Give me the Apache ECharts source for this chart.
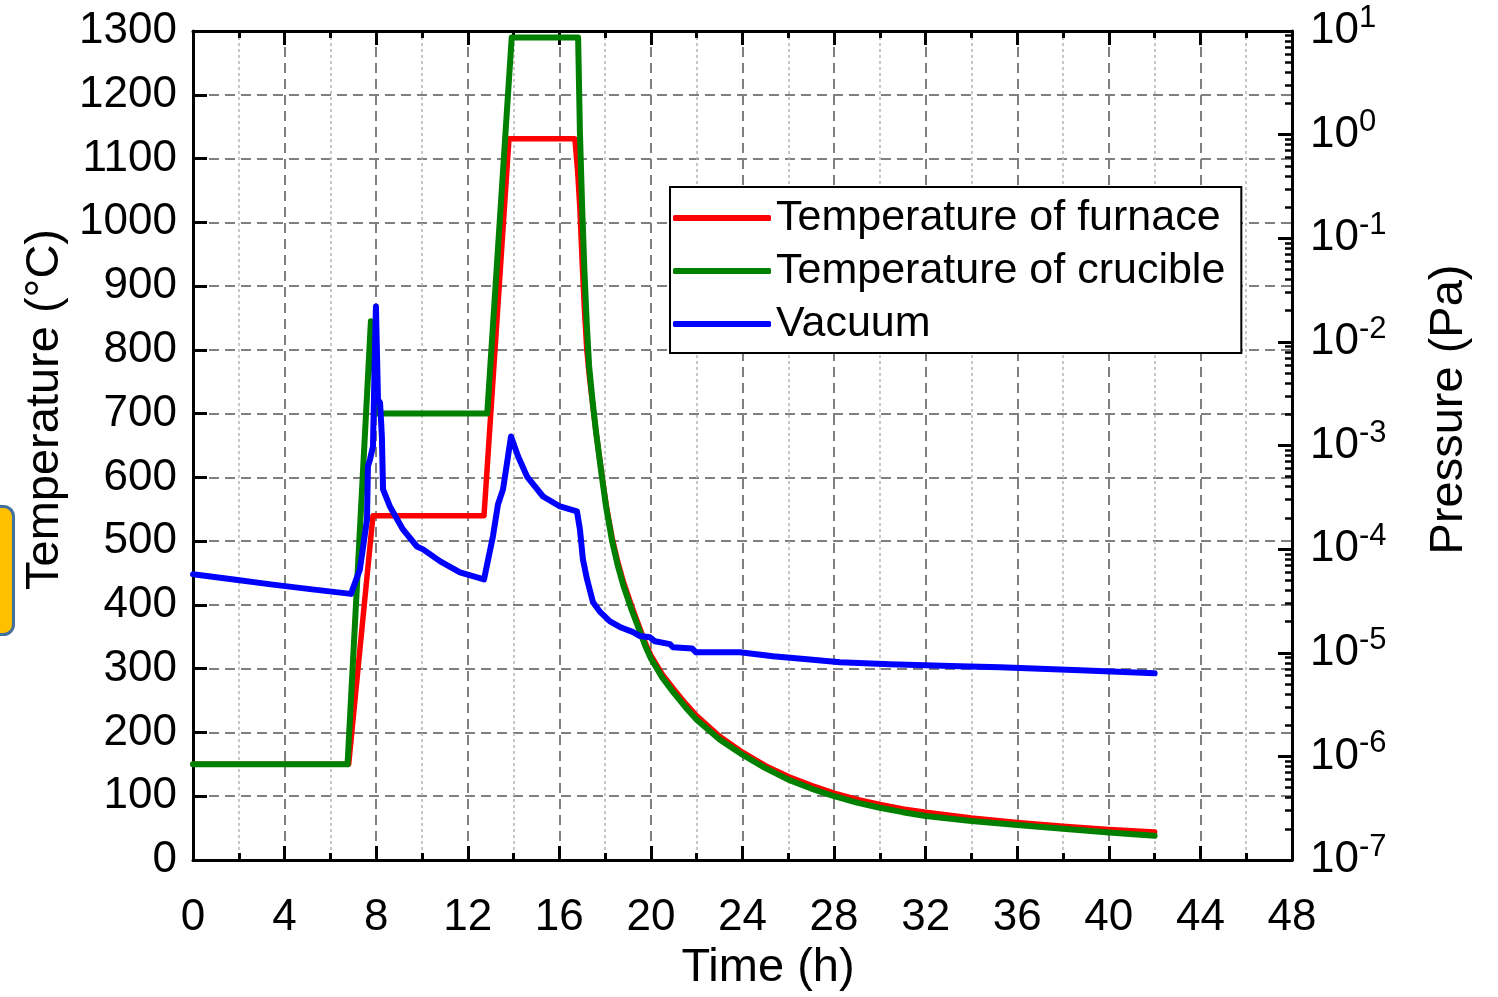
<!DOCTYPE html>
<html>
<head>
<meta charset="utf-8">
<script src="https://cdn.jsdelivr.net/npm/echarts@6/dist/echarts.min.js"></script>
<style>
html,body{margin:0;padding:0;background:#fff;}
#chart{width:1498px;height:997px;}
</style>
</head>
<body>
<div id="chart"></div>
<script>
// ---- data: [time (h), value] ----
const furnaceTemp = [
  [0,150],[6.8,150],[7.86,540],[12.71,540],[13.8,1131],[16.68,1131],[16.8,1080],[16.9,1020],
  [17.0,935],[17.1,860],[17.2,800],[17.3,762],[17.45,716],[17.6,672],[17.85,606],[18.05,556],
  [18.3,506],[18.55,468],[18.8,436],[19.16,398],[19.5,365],[19.75,341],[20.0,321],[20.5,291],
  [21.0,268],[21.5,246],[22.0,226],[23.0,194],[24.0,169],[25.0,148],[26.0,131],[27.0,117],
  [28.0,105],[29.0,95],[30.0,87],[31.0,80],[32.0,75],[34.0,66],[36.0,59],[38.0,53],[40.0,48],[42.0,44]
];
const crucibleTemp = [
  [0,150],[6.75,150],[7.77,845],[8.05,700],[12.85,700],[13.92,1290],[16.82,1290],[16.9,1140],
  [17.0,1020],[17.1,920],[17.2,840],[17.3,775],[17.45,720],[17.6,672],[17.85,603],[18.05,552],
  [18.3,501],[18.55,462],[18.8,430],[19.16,392],[19.5,360],[19.75,336],[20.0,316],[20.5,286],
  [21.0,262],[21.5,240],[22.0,220],[23.0,189],[24.0,165],[25.0,144],[26.0,126],[27.0,112],
  [28.0,100],[29.0,90],[30.0,82],[31.0,75],[32.0,69],[34.0,61],[36.0,55],[38.0,49],[40.0,43],[42.0,38]
];
const vacuumPressure = [
  [0,5.71e-5],[1.7,5.11e-5],[3.4,4.57e-5],[5.2,4.09e-5],[6.9,3.7e-5],[7.29,6.38e-5],[7.6,1.94e-4],
  [7.64,6.28e-4],[7.73,7.33e-4],[7.86,9.77e-4],[7.95,8.99e-3],[7.99,2.19e-2],[8.08,2.77e-3],
  [8.17,2.59e-3],[8.25,1.22e-3],[8.30,3.77e-4],[8.60,2.58e-4],[9.17,1.55e-4],[9.78,1.06e-4],
  [10.05,9.95e-5],[10.8,7.62e-5],[11.66,5.97e-5],[12.71,5.11e-5],[13.10,1.33e-4],[13.32,2.70e-4],
  [13.54,3.77e-4],[13.89,1.22e-3],[14.2,7.83e-4],[14.59,5.02e-4],[15.29,3.22e-4],[16.03,2.58e-4],
  [16.77,2.31e-4],[16.9,1.55e-4],[17.03,7.96e-5],[17.21,5.11e-5],[17.47,3.07e-5],[17.8,2.45e-5],
  [18.21,2.01e-5],[18.7,1.75e-5],[19.22,1.58e-5],[19.52,1.45e-5],[19.96,1.41e-5],[20.18,1.29e-5],
  [20.83,1.21e-5],[20.96,1.13e-5],[21.8,1.10e-5],[21.97,1.01e-5],[23.89,1.01e-5],[25.33,9.25e-6],
  [26.82,8.66e-6],[28.26,8.09e-6],[30.44,7.74e-6],[33.5,7.41e-6],[35.25,7.24e-6],[38.74,6.78e-6],
  [42.0,6.34e-6]
];
const seriesNames = ['Temperature of furnace','Temperature of crucible','Vacuum'];
const seriesColors = ['#ff0000','#008000','#0000ff'];
const xTitle = 'Time (h)';
const yLeftTitle = 'Temperature (°C)';
const yRightTitle = 'Pressure (Pa)';

const FONT = '"Liberation Sans", Arial, Helvetica, sans-serif';
const black = '#000';
const frameLine = {show:true, onZero:false, lineStyle:{color:black, width:3}};

const chart = echarts.init(document.getElementById('chart'), null, {renderer:'canvas'});
const option = {
  animation:false,
  backgroundColor:'#ffffff',
  textStyle:{fontFamily:FONT, color:black},
  grid:{left:193, right:206, top:31, bottom:136, containLabel:false},
  legend:{
    orient:'vertical', left:670, top:187,
    padding:[7,16,5,3], itemGap:5, itemWidth:98, itemHeight:6,
    icon:'roundRect',
    backgroundColor:'#fff', borderColor:black, borderWidth:2,
    textStyle:{fontSize:43, color:black, fontFamily:FONT, lineHeight:48},
    data:seriesNames
  },
  graphic:[{
    type:'rect', left:-30, top:505, z:100,
    shape:{width:42, height:128, r:10},
    style:{fill:'#FFC000', stroke:'#41719C', lineWidth:3}
  }],
  xAxis:[{
    type:'value', min:0, max:48, interval:4, position:'bottom',
    axisLine:frameLine,
    axisTick:{show:true, inside:true, length:14, lineStyle:{color:black, width:3}},
    minorTick:{show:true, splitNumber:2, length:7, lineStyle:{color:black, width:3}},
    splitLine:{show:true, lineStyle:{color:'#808080', width:2, type:[10,6]}},
    minorSplitLine:{show:true, lineStyle:{color:'#b4b4b4', width:1.5, type:[3,3]}},
    axisLabel:{fontSize:44, color:black, margin:36, fontFamily:FONT, formatter:function(v){return String(v);}},
    name:xTitle, nameLocation:'middle', nameGap:85,
    nameTextStyle:{fontSize:47, color:black, fontFamily:FONT, padding:[0,0,0,51]}
  },{
    type:'value', min:0, max:48, interval:4, position:'top',
    axisLine:frameLine,
    axisTick:{show:true, inside:true, length:14, lineStyle:{color:black, width:3}},
    minorTick:{show:true, splitNumber:2, length:7, lineStyle:{color:black, width:3}},
    splitLine:{show:false}, axisLabel:{show:false}
  }],
  yAxis:[{
    type:'value', min:0, max:1300, interval:100, position:'left',
    axisLine:frameLine,
    axisTick:{show:true, inside:true, length:14, lineStyle:{color:black, width:3}},
    splitLine:{show:true, lineStyle:{color:'#808080', width:2, type:[10,6]}},
    axisLabel:{fontSize:44, color:black, margin:16, fontFamily:FONT, formatter:function(v){return String(v);}},
    name:yLeftTitle, nameLocation:'middle', nameGap:110, nameRotate:90,
    nameTextStyle:{fontSize:47, color:black, fontFamily:FONT, padding:[0,0,0,72]}
  },{
    type:'log', logBase:10, min:1e-7, max:10, splitNumber:8, position:'right',
    axisLine:frameLine,
    axisTick:{show:true, inside:true, length:14, lineStyle:{color:black, width:3}},
    minorTick:{show:true, splitNumber:9, length:7, lineStyle:{color:black, width:2.5}},
    splitLine:{show:false}, minorSplitLine:{show:false},
    axisLabel:{
      margin:18, color:black, fontFamily:FONT,
      formatter:function(v){
        const e = Math.round(Math.log10(v));
        return '{b|10}{s|' + (e < 0 ? '-' + (-e) : e) + '}';
      },
      rich:{
        b:{fontSize:44, lineHeight:56, color:black, fontFamily:FONT},
        s:{fontSize:31, lineHeight:28, verticalAlign:'top', color:black, fontFamily:FONT}
      }
    },
    name:yRightTitle, nameLocation:'middle', nameGap:134, nameRotate:90,
    nameTextStyle:{fontSize:47, color:black, fontFamily:FONT, padding:[0,0,0,72]}
  }],
  series:[{
    name:seriesNames[0], type:'line', xAxisIndex:0, yAxisIndex:0, data:furnaceTemp,
    showSymbol:false, symbol:'none', color:seriesColors[0],
    lineStyle:{color:seriesColors[0], width:5.5, cap:'round', join:'round'}, z:3
  },{
    name:seriesNames[1], type:'line', xAxisIndex:0, yAxisIndex:0, data:crucibleTemp,
    showSymbol:false, symbol:'none', color:seriesColors[1],
    lineStyle:{color:seriesColors[1], width:6, cap:'round', join:'round'}, z:4
  },{
    name:seriesNames[2], type:'line', xAxisIndex:0, yAxisIndex:1, data:vacuumPressure,
    showSymbol:false, symbol:'none', color:seriesColors[2],
    lineStyle:{color:seriesColors[2], width:6, cap:'round', join:'round'}, z:5
  }]
};
chart.setOption(option);
</script>
</body>
</html>
